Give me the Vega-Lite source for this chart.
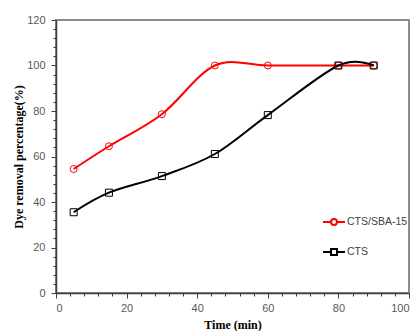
{
  "$schema": "https://vega.github.io/schema/vega-lite/v6.json",
  "width": 353,
  "height": 273,
  "autosize": {"type": "none"},
  "padding": {"left": 56, "top": 20, "right": 11, "bottom": 38},
  "background": "white",
  "config": {
    "view": {"stroke": "#8c8c8c", "strokeWidth": 2},
    "axis": {
      "grid": false,
      "domainColor": "#404040",
      "domainWidth": 1.5,
      "tickColor": "#404040",
      "tickWidth": 1,
      "labelFont": "Liberation Sans",
      "labelFontSize": 11,
      "labelColor": "#595959",
      "titleFont": "Liberation Serif",
      "titleFontSize": 12,
      "titleFontWeight": "bold",
      "titleColor": "#000000"
    }
  },
  "data": {
    "values": [
      {"time": 5, "removal": 54.5, "sample": "CTS/SBA-15"},
      {"time": 15, "removal": 64.5, "sample": "CTS/SBA-15"},
      {"time": 30, "removal": 78.6, "sample": "CTS/SBA-15"},
      {"time": 45, "removal": 100, "sample": "CTS/SBA-15"},
      {"time": 60, "removal": 100, "sample": "CTS/SBA-15"},
      {"time": 80, "removal": 100, "sample": "CTS/SBA-15"},
      {"time": 90, "removal": 100, "sample": "CTS/SBA-15"},
      {"time": 5, "removal": 35.5, "sample": "CTS"},
      {"time": 15, "removal": 44.1, "sample": "CTS"},
      {"time": 30, "removal": 51.4, "sample": "CTS"},
      {"time": 45, "removal": 61.1, "sample": "CTS"},
      {"time": 60, "removal": 78.2, "sample": "CTS"},
      {"time": 80, "removal": 100, "sample": "CTS"},
      {"time": 90, "removal": 100, "sample": "CTS"}
    ]
  },
  "resolve": {"axis": {"x": "independent", "y": "independent"}},
  "layer": [
    {
      "mark": {"type": "point", "shape": "square", "filled": false, "strokeWidth": 1, "size": 49, "opacity": 0},
      "encoding": {
        "x": {
          "field": "time", "type": "quantitative",
          "scale": {"domain": [0, 100], "nice": false},
          "axis": {
            "orient": "bottom",
            "values": [0, 4, 8, 12, 16, 20, 24, 28, 32, 36, 40, 44, 48, 52, 56, 60, 64, 68, 72, 76, 80, 84, 88, 92, 96, 100],
            "ticks": true,
            "tickSize": 3,
            "tickColor": "#333333",
            "labels": false,
            "domain": false,
            "title": null
          }
        },
        "y": {
          "field": "removal", "type": "quantitative",
          "scale": {"domain": [0, 120], "nice": false},
          "axis": {
            "orient": "left",
            "values": [0, 4, 8, 12, 16, 20, 24, 28, 32, 36, 40, 44, 48, 52, 56, 60, 64, 68, 72, 76, 80, 84, 88, 92, 96, 100, 104, 108, 112, 116, 120],
            "ticks": true,
            "tickSize": 3,
            "tickColor": "#333333",
            "labels": false,
            "domain": false,
            "title": null
          }
        }
      }
    },
    {
      "mark": {"type": "line", "interpolate": "cardinal", "tension": 0, "strokeWidth": 2},
      "encoding": {
        "x": {
          "field": "time", "type": "quantitative",
          "axis": {
            "orient": "bottom",
            "values": [0, 20, 40, 60, 80, 100],
            "tickSize": 5,
            "labelPadding": 4,
            "title": "Time (min)",
            "titleX": 176.5,
            "titleY": 31,
            "titleAlign": "center",
            "titleBaseline": "middle"
          }
        },
        "y": {
          "field": "removal", "type": "quantitative",
          "axis": {
            "orient": "left",
            "values": [0, 20, 40, 60, 80, 100, 120],
            "tickSize": 5,
            "labelPadding": 6,
            "title": "Dye removal percentage(%)",
            "titleX": -38,
            "titleY": 136.5,
            "titleAngle": -90,
            "titleAlign": "center",
            "titleBaseline": "middle"
          }
        },
        "color": {
          "field": "sample", "type": "nominal",
          "scale": {"domain": ["CTS/SBA-15", "CTS"], "range": ["#ff0000", "#000000"]},
          "legend": {
            "title": null,
            "orient": "none",
            "legendX": 266,
            "legendY": 190,
            "padding": 0,
            "symbolSize": 484,
            "symbolStrokeWidth": 2,
            "symbolFillColor": "transparent",
            "rowPadding": 11,
            "labelFont": "Liberation Sans",
            "labelFontSize": 10.5,
            "labelColor": "#404040",
            "labelOffset": 1,
            "encode": {
              "symbols": {
                "update": {
                  "shape": {"signal": "datum.value === 'CTS' ? 'M-1,0L-0.27,0M0.27,0L1,0M-0.27,-0.27L0.27,-0.27L0.27,0.27L-0.27,0.27Z' : 'M-1,0L-0.27,0M0.27,0L1,0M-0.27,0A0.27,0.27 0 1,1 0.27,0A0.27,0.27 0 1,1 -0.27,0Z'"},
                  "fill": {"value": "transparent"}
                }
              }
            }
          }
        }
      }
    },
    {
      "transform": [{"filter": "datum.sample === 'CTS/SBA-15'"}],
      "mark": {"type": "point", "shape": "circle", "filled": false, "strokeWidth": 1, "size": 49, "opacity": 1},
      "encoding": {
        "x": {"field": "time", "type": "quantitative", "axis": null},
        "y": {"field": "removal", "type": "quantitative", "axis": null},
        "color": {"field": "sample", "type": "nominal"}
      }
    },
    {
      "transform": [{"filter": "datum.sample === 'CTS'"}],
      "mark": {"type": "point", "shape": "square", "filled": false, "strokeWidth": 1, "size": 49, "opacity": 1},
      "encoding": {
        "x": {"field": "time", "type": "quantitative", "axis": null},
        "y": {"field": "removal", "type": "quantitative", "axis": null},
        "color": {"field": "sample", "type": "nominal"}
      }
    }
  ]
}
